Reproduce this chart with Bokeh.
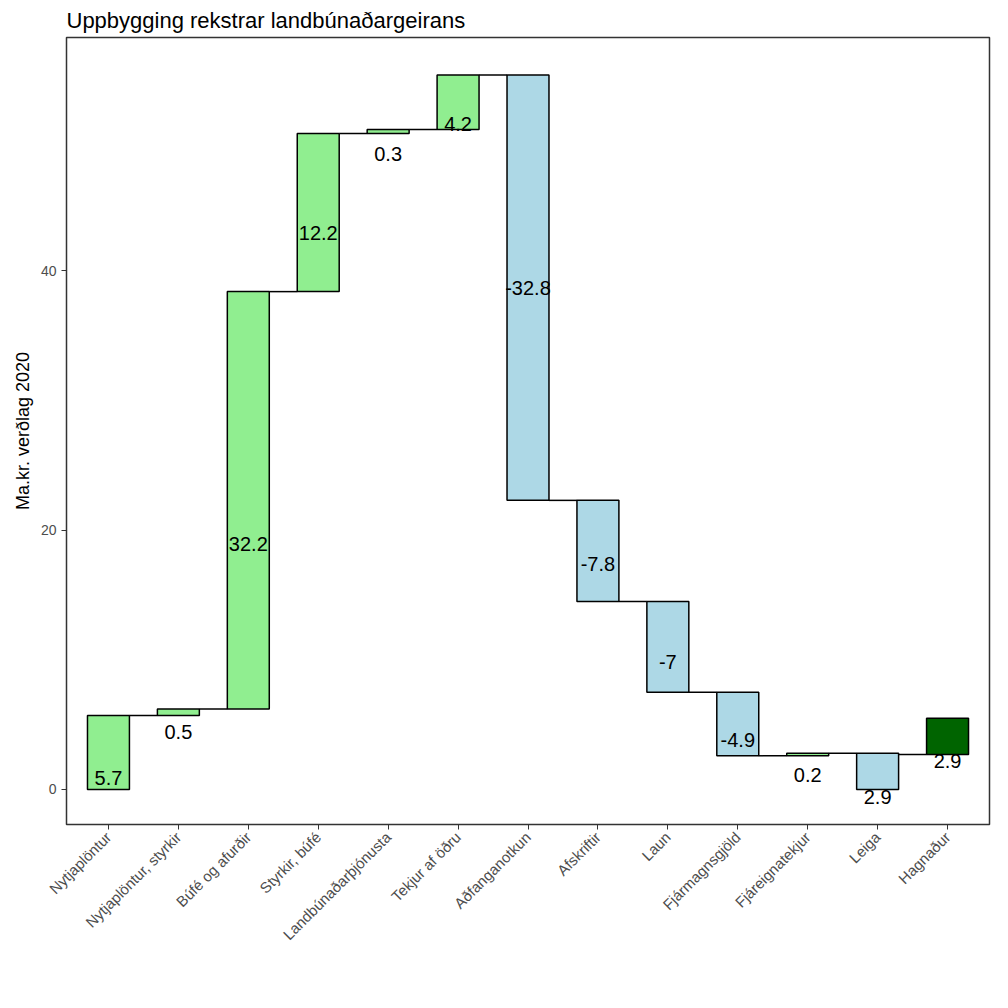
from bokeh.plotting import figure
from bokeh.models import ColumnDataSource, FixedTicker
from bokeh.core.properties import value
from bokeh.embed import file_html
from bokeh.resources import INLINE
import math

categories = ["Nytjaplöntur", "Nytjaplöntur, styrkir", "Búfé og afurðir", "Styrkir, búfé",
              "Landbúnaðarþjónusta", "Tekjur af öðru", "Aðfanganotkun", "Afskriftir", "Laun",
              "Fjármagnsgjöld", "Fjáreignatekjur", "Leiga", "Hagnaður"]
bar_start = [0, 5.7, 6.2, 38.4, 50.6, 50.9, 55.1, 22.3, 14.5, 7.5, 2.6, 2.8, 2.7]
bar_end = [5.7, 6.2, 38.4, 50.6, 50.9, 55.1, 22.3, 14.5, 7.5, 2.6, 2.8, 0, 5.5]
labels = ["5.7", "0.5", "32.2", "12.2", "0.3", "4.2", "-32.8", "-7.8", "-7", "-4.9", "0.2", "2.9", "2.9"]
label_y = [0.9, 4.4, 18.9, 42.9, 49.0, 51.3, 38.7, 17.4, 9.8, 3.8, 1.1, -0.6, 2.2]
kinds = ["pos"] * 6 + ["neg"] * 4 + ["pos", "neg", "total"]
colors = {"pos": "#90EE90", "neg": "#ADD8E6", "total": "#006400"}

x = list(range(1, len(categories) + 1))
src = ColumnDataSource(dict(
    x=x, top=[max(a, b) for a, b in zip(bar_start, bar_end)],
    bottom=[min(a, b) for a, b in zip(bar_start, bar_end)],
    color=[colors[k] for k in kinds], label=labels, ly=label_y))

p = figure(width=992, height=990, x_range=(0.4, 13.6), y_range=(-2.7, 58.0),
           output_backend="svg", toolbar_location=None,
           title="Uppbygging rekstrar landbúnaðargeirans",
           min_border_left=66, min_border_right=3, min_border_bottom=166, min_border_top=12)
p.title.text_font = "Liberation Sans"
p.title.text_font_size = "22px"
p.title.text_font_style = "normal"
p.title.text_color = "black"
p.title.offset = 0

# connectors
cx0 = [i + 0.3 for i in x[:-1]]
cx1 = [i + 0.7 for i in x[:-1]]
cy = bar_start[1:]
p.segment(x0=cx0, y0=cy, x1=cx1, y1=cy, line_color="black", line_width=1.5)

p.vbar(x="x", top="top", bottom="bottom", width=0.6, fill_color="color",
       line_color="black", line_width=1.5, source=src)
p.text(x="x", y="ly", text="label", text_align="center", text_baseline="middle",
       text_font_size="20px", text_font=value("Liberation Sans"), source=src)

p.xgrid.visible = False
p.ygrid.visible = False
p.outline_line_color = "#333333"
p.outline_line_width = 1.5
p.yaxis.ticker = FixedTicker(ticks=[0, 20, 40])
p.xaxis.ticker = FixedTicker(ticks=x)
p.xaxis.major_label_overrides = {i: c for i, c in zip(x, categories)}
p.xaxis.major_label_orientation = math.pi / 4
p.yaxis.axis_label = "Ma.kr. verðlag 2020"
p.yaxis.axis_label_text_font = "Liberation Sans"
p.yaxis.axis_label_text_font_style = "normal"
p.yaxis.axis_label_text_font_size = "18px"
p.yaxis.axis_label_text_color = "black"
for ax in (p.xaxis, p.yaxis):
    ax.axis_line_color = None
    ax.minor_tick_line_color = None
    ax.major_tick_line_color = "#333333"
    ax.major_tick_in = 0
    ax.major_tick_out = 5
    ax.major_label_text_font = "Liberation Sans"
    ax.major_label_text_color = "#4D4D4D"
p.xaxis.major_label_text_font_size = "15px"
p.yaxis.major_label_text_font_size = "14px"

open("out.html", "w").write(file_html(p, INLINE))
